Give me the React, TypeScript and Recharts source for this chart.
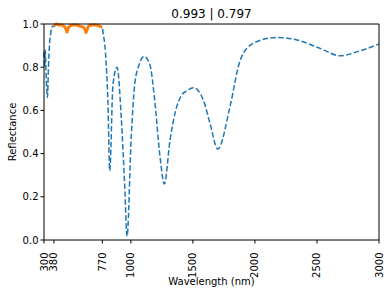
import React from "react"
import {
    LineChart,
    Line,
    XAxis,
    YAxis,
    ReferenceLine
} from "recharts"

// full spectrum, dashed blue
const wavelengths = [
    300, 305, 310, 316, 322, 328, 336, 345, 355, 368, 380, 400, 420, 440, 460, 475, 485, 495, 510, 530,
    560, 590, 615, 630, 639, 648, 660, 690, 720, 745, 770, 775, 795, 815, 830, 856, 889, 923, 950, 969,
    1004, 1031, 1066, 1106, 1154, 1190, 1235, 1270, 1316, 1356, 1410, 1450, 1504, 1584, 1638, 1701,
    1799, 1874, 1906, 2013, 2177, 2338, 2526, 2687, 2848, 3000
]
const reflectance = [
    0.87, 0.8, 0.88, 0.78, 0.7, 0.66, 0.8, 0.91, 0.96, 0.99, 0.99, 1.0, 0.995, 0.995, 0.99, 0.98, 0.962, 0.98, 0.99, 0.995,
    0.995, 0.99, 0.985, 0.975, 0.96, 0.975, 0.99, 0.995, 0.995, 0.99, 0.985, 0.965, 0.87, 0.64, 0.32, 0.72, 0.8, 0.565, 0.256, 0.017,
    0.487, 0.72, 0.81, 0.85, 0.81, 0.66, 0.386, 0.259, 0.463, 0.587, 0.671, 0.69, 0.705, 0.648, 0.54, 0.421,
    0.617, 0.818, 0.864, 0.918, 0.938, 0.926, 0.887, 0.853, 0.876, 0.907
]

// visible band 380-770, solid orange
const visibleNm = [380, 400, 420, 440, 460, 475, 485, 495, 510, 530, 560, 590, 615, 630, 639, 648, 660, 690, 720, 745, 770]
const visibleR = [0.99, 1.0, 0.995, 0.995, 0.99, 0.98, 0.962, 0.98, 0.99, 0.995, 0.995, 0.99, 0.985, 0.975, 0.96, 0.975, 0.99, 0.995, 0.995, 0.99, 0.985]

const xTicks = [300, 380, 770, 1000, 1500, 2000, 2500, 3000]
const yTicks = [0, 0.2, 0.4, 0.6, 0.8, 1.0]
const title = "0.993 | 0.797"

const fullData = wavelengths.map((nm, i) => ({ nm, r: reflectance[i] }))
const visData = visibleNm.map((nm, i) => ({ nm, r: visibleR[i] }))

const font = "'DejaVu Sans', sans-serif"

const RotatedTick = (props: any) => {
    const { x, y, payload } = props
    const ty = y + 7
    return (
        <text
            x={x}
            y={ty}
            transform={`rotate(-90, ${x}, ${ty})`}
            textAnchor="end"
            dy="0.35em"
            fontSize={10}
            fontFamily={font}
            fill="#000"
        >
            {payload.value}
        </text>
    )
}

const YLabel = (props: any) => {
    const { viewBox } = props
    const cx = 12
    const cy = viewBox.y + viewBox.height / 2
    return (
        <text
            x={cx}
            y={cy}
            transform={`rotate(-90, ${cx}, ${cy})`}
            textAnchor="middle"
            dy="0.35em"
            fontSize={10}
            fontFamily={font}
            fill="#000"
        >
            Reflectance
        </text>
    )
}

export default function App() {
    return (
        <div style={{ position: "absolute", left: 0, top: 0, width: 391, height: 294, background: "#fff" }}>
            <LineChart width={391} height={294} margin={{ top: 24, right: 12, left: 0, bottom: 0 }}>
                <XAxis
                    dataKey="nm"
                    type="number"
                    domain={[300, 3000]}
                    ticks={xTicks}
                    interval={0}
                    height={54}
                    tickSize={3.5}
                    stroke="#000"
                    tickLine={{ stroke: "#000" }}
                    tick={<RotatedTick />}
                    allowDuplicatedCategory={false}
                    label={{ value: "Wavelength (nm)", position: "insideBottom", offset: 9, fill: "#000", fontSize: 10, fontFamily: font }}
                />
                <YAxis
                    type="number"
                    domain={[0, 1]}
                    ticks={yTicks}
                    width={44}
                    tickSize={3.5}
                    stroke="#000"
                    tickFormatter={(v: number) => v.toFixed(1)}
                    tick={{ fontSize: 10, fontFamily: font, fill: "#000" }}
                    label={<YLabel />}
                />
                <Line
                    data={fullData}
                    dataKey="r"
                    type="monotone"
                    stroke="#1f77b4"
                    strokeWidth={1.5}
                    strokeDasharray="5.5 2.4"
                    dot={false}
                    isAnimationActive={false}
                />
                <Line
                    data={visData}
                    dataKey="r"
                    type="monotone"
                    stroke="#ff7f0e"
                    strokeWidth={3}
                    dot={false}
                    isAnimationActive={false}
                />
                <ReferenceLine
                    y={1}
                    stroke="#000"
                    strokeWidth={1}
                    label={{ value: title, position: "top", offset: 6, fill: "#000", fontSize: 12, fontFamily: font }}
                />
                <ReferenceLine x={3000} stroke="#000" strokeWidth={1} />
            </LineChart>
        </div>
    )
}
